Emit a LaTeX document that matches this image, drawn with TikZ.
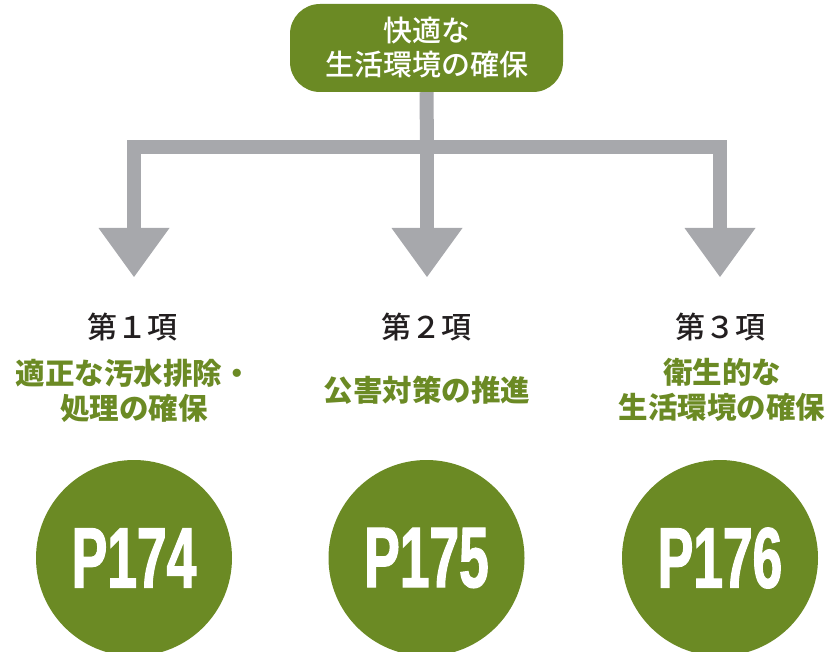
\documentclass[tikz,border=0pt]{standalone}
\usepackage{fontspec}
\newfontfamily\jp{Noto Sans CJK JP}
\newfontfamily\jpm{Noto Sans CJK JP}[UprightFont=* Medium]
\newfontfamily\pagefont{Liberation Sans}[FakeStretch=0.62, FakeBold=1.3]
\definecolor{leaf}{HTML}{6B8A24}
\definecolor{arrowgray}{HTML}{A7A8AC}
\definecolor{inkdark}{HTML}{231F20}
\tikzset{
  topbox/.style={fill=leaf, rounded corners=30pt, minimum width=273pt, minimum height=88pt,
    inner sep=0pt, text=white, align=center, font=\jpm\fontsize{29}{34}\selectfont},
  itemhead/.style={text=inkdark, inner sep=0pt, font=\jpm\fontsize{30}{34}\selectfont},
  itemtitle/.style={text=leaf, inner sep=0pt, align=center, font=\jp\bfseries\fontsize{29.5}{35}\selectfont},
  pagecircle/.style={circle, fill=leaf, minimum size=196pt, inner sep=0pt, text=white,
    font=\pagefont\bfseries\fontsize{86}{86}\selectfont},
  bar/.style={draw=arrowgray, line width=14pt, line join=miter, line cap=butt},
  head/.style={fill=arrowgray}
}
\begin{document}
\begin{tikzpicture}[x=1pt,y=-1pt]
\useasboundingbox (0,0) rectangle (827,652);
% top box
\node[topbox] (top) at (426.5,48) {快適な\\生活環境の確保};
% connector geometry
\coordinate (jn) at (427,147.5);
\coordinate (hl) at (134,228);
\coordinate (hm) at (427,228);
\coordinate (hr) at (720,228);
\draw[bar] (top.south) -- (jn);
\draw[bar] (hl) -- (hl |- jn) -- (hr |- jn) -- (hr);
\draw[bar] (jn) -- (hm);
\fill[head] ([xshift=-35.5pt]hl) -- ([xshift=35.5pt]hl) -- ([yshift=-49pt]hl) -- cycle;
\fill[head] ([xshift=-35.5pt]hm) -- ([xshift=35.5pt]hm) -- ([yshift=-49pt]hm) -- cycle;
\fill[head] ([xshift=-35.5pt]hr) -- ([xshift=35.5pt]hr) -- ([yshift=-49pt]hr) -- cycle;
% item headings
\node[itemhead] (h1) at (132,327) {第１項};
\node[itemhead] (h2) at (426,327) {第２項};
\node[itemhead] (h3) at (720,327) {第３項};
% item titles
\node[itemtitle] (t1) at (134,390.5) {適正な汚水排除・\\処理の確保};
\node[itemtitle] (t2) at (427,390) {公害対策の推進};
\node[itemtitle] (t3) at (722,390) {衛生的な\\生活環境の確保};
% page circles
\node[pagecircle] (p1) at (134,558) {P174};
\node[pagecircle] (p2) at (426.5,558) {P175};
\node[pagecircle] (p3) at (720,558) {P176};
\end{tikzpicture}
\end{document}
